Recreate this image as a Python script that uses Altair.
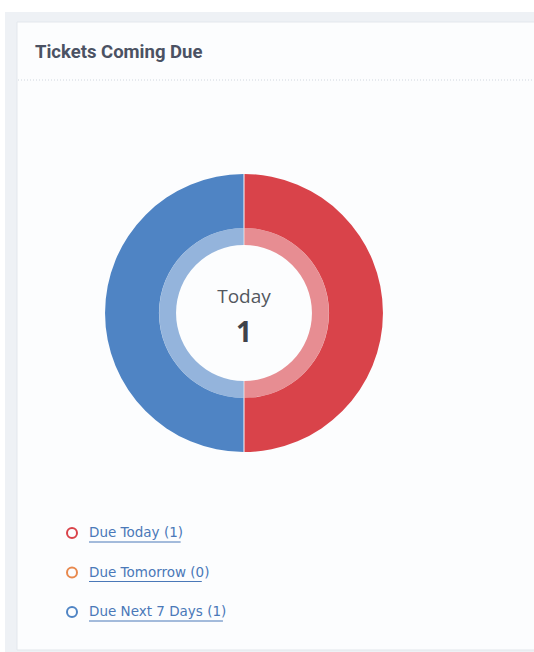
import altair as alt
import pandas as pd

title = "Tickets Coming Due"
categories = ["Due Today", "Due Tomorrow", "Due Next 7 Days"]
counts = [1, 0, 1]
colors = ["#d9434a", "#e8894e", "#4f84c4"]
center_label = "Today"
center_value = 1

df = pd.DataFrame({
    "cat": categories,
    "count": counts,
    "idx": list(range(len(categories))),
})
df["label"] = [f"{c} ({n})" for c, n in zip(categories, counts)]

W, H = 534, 652
CX, CY = 244, 313

color = alt.Color("cat:N", scale=alt.Scale(domain=categories, range=colors), legend=None)

base = alt.Chart(df)

# frame decorations
frame = alt.Chart(pd.DataFrame({"a": [0]}))
outer = frame.mark_rect(color="#eef1f5").encode(
    x=alt.value(5), x2=alt.value(W), y=alt.value(12), y2=alt.value(H))
card = frame.mark_rect(color="#fcfdfe", stroke="#e3e7ec", strokeWidth=1).encode(
    x=alt.value(17), x2=alt.value(W + 5), y=alt.value(22), y2=alt.value(650))
sep = frame.mark_rule(color="#cfd6de", strokeDash=[1, 2], strokeWidth=1).encode(
    x=alt.value(18), x2=alt.value(W), y=alt.value(80))
title_t = frame.mark_text(text=title, font="Roboto", fontWeight="bold", fontSize=18.5,
                          color="#4b5263", align="left", baseline="middle").encode(
    x=alt.value(35), y=alt.value(52))

outer_ring = base.mark_arc(radius=139, radius2=85, padAngle=0.006).encode(
    theta=alt.Theta("count:Q", stack=True), color=color, order=alt.Order("idx:Q"),
    x=alt.value(CX), y=alt.value(CY))
inner_ring = base.mark_arc(radius=85, radius2=68, opacity=0.6, padAngle=0.006).encode(
    theta=alt.Theta("count:Q", stack=True), color=color, order=alt.Order("idx:Q"),
    x=alt.value(CX), y=alt.value(CY))

center1 = frame.mark_text(text=center_label, font="Open Sans", fontSize=19,
                          color="#53585f", baseline="middle").encode(
    x=alt.value(CX), y=alt.value(297))
center2 = frame.mark_text(text=str(center_value), font="Open Sans", fontWeight="bold",
                          fontSize=28, color="#3f434a", baseline="middle").encode(
    x=alt.value(CX), y=alt.value(334))

ypos = alt.Y("label:N", sort=None, axis=None,
             scale=alt.Scale(type="point", domain=list(df["label"]), range=[533, 612], padding=0))

leg_pts = base.mark_point(shape="circle", filled=False, strokeWidth=2, size=100, opacity=1).encode(
    x=alt.value(72), y=ypos, color=color)
leg_txt = base.mark_text(align="left", baseline="middle", font="DejaVu Sans", fontSize=13.5,
                         color="#4a78b8").encode(
    x=alt.value(89), y=ypos, text="label:N")
leg_line = base.transform_calculate(
    x0="89", x1="89 + length(datum.label) * 7.05"
).mark_rule(color="#4a78b8", strokeWidth=1, yOffset=9).encode(
    x=alt.X("x0:Q", scale=None, axis=None), x2="x1:Q", y=ypos)

chart = alt.layer(
    outer, card, sep, title_t, outer_ring, inner_ring, center1, center2,
    leg_pts, leg_txt, leg_line
).resolve_scale(color="shared").properties(
    width=W, height=H, padding=0, autosize=alt.AutoSizeParams(type="none"),
    background="#ffffff"
).configure_view(stroke=None)

chart.save("out.html", embed_options={"renderer": "svg", "actions": False})
